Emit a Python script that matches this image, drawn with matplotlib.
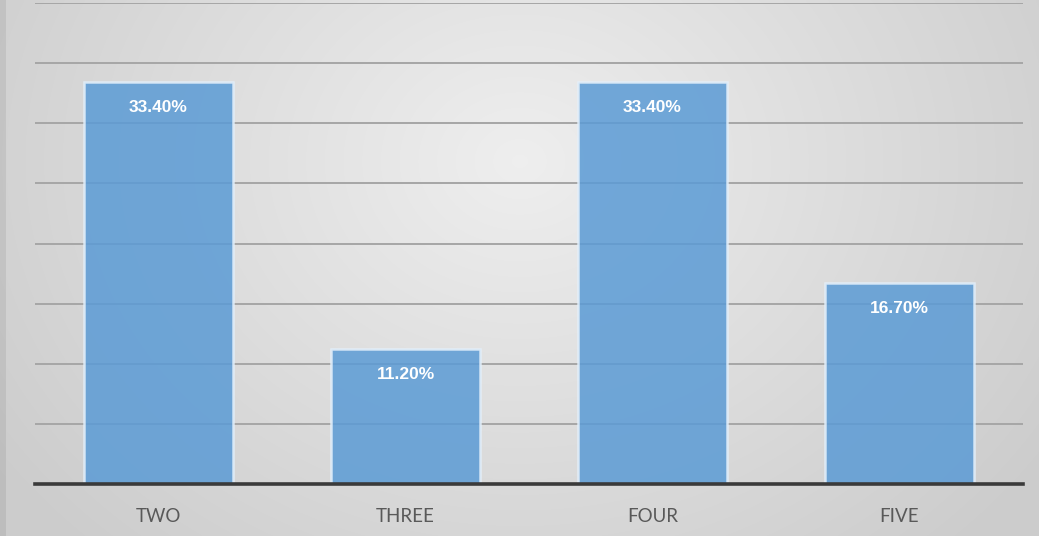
import numpy as np
import matplotlib
matplotlib.use("Agg")
import matplotlib.pyplot as plt

categories = ["TWO", "THREE", "FOUR", "FIVE"]
values = [33.4, 11.2, 33.4, 16.7]
labels = ["33.40%", "11.20%", "33.40%", "16.70%"]

W, H = 1039, 536
fig = plt.figure(figsize=(W / 100, H / 100), dpi=100)

# background radial gradient
bg = fig.add_axes([0, 0, 1, 1])
yy, xx = np.mgrid[0:H, 0:W]
cx, cy = W * 0.5, H * 0.3
r = np.sqrt(((xx - cx) / (W * 0.62)) ** 2 + ((yy - cy) / (H * 1.0)) ** 2)
r = np.clip(r, 0, 1)
inner = np.array([0.935, 0.935, 0.935])
outer = np.array([0.80, 0.80, 0.80])
img = inner[None, None, :] * (1 - r[..., None]) + outer[None, None, :] * r[..., None]
img[:, :6, :] *= 0.93
bg.imshow(img, aspect="auto", extent=[0, W, H, 0])
bg.axis("off")

left, right = 35 / W, 1023 / W
bottom = (H - 484) / H
top = (H - 3) / H
ax = fig.add_axes([left, bottom, right - left, top - bottom])
ax.patch.set_alpha(0)

x = np.arange(len(categories))
ax.set_xlim(-0.5, len(categories) - 0.5)
ax.set_ylim(0, 40)
ax.set_yticks(np.arange(5, 41, 5))
ax.yaxis.grid(True, color="#a6a6a6", linewidth=1.4)
ax.set_axisbelow(True)

bars = ax.bar(x, values, width=0.6, color="#5b9bd5", alpha=0.85,
              edgecolor="#e4f0fb", linewidth=1.8, zorder=2)

for xi, v, lab in zip(x, values, labels):
    ax.annotate(lab, (xi, v), xytext=(0, -25), textcoords="offset pixels",
                ha="center", va="center", color="white", fontsize=12.5,
                fontweight="bold", family="Liberation Sans", zorder=3)

for s in ["top", "right", "left"]:
    ax.spines[s].set_visible(False)
ax.spines["bottom"].set_color("#3a3a3a")
ax.spines["bottom"].set_linewidth(2.6)
ax.spines["bottom"].set_zorder(4)

ax.set_xticks(x)
ax.set_xticklabels(categories, family="Lato", fontsize=13.5, color="#595959")
ax.tick_params(axis="x", length=0, pad=17)
ax.tick_params(axis="y", length=0, labelleft=False)

fig.savefig("out.png", dpi=100)
